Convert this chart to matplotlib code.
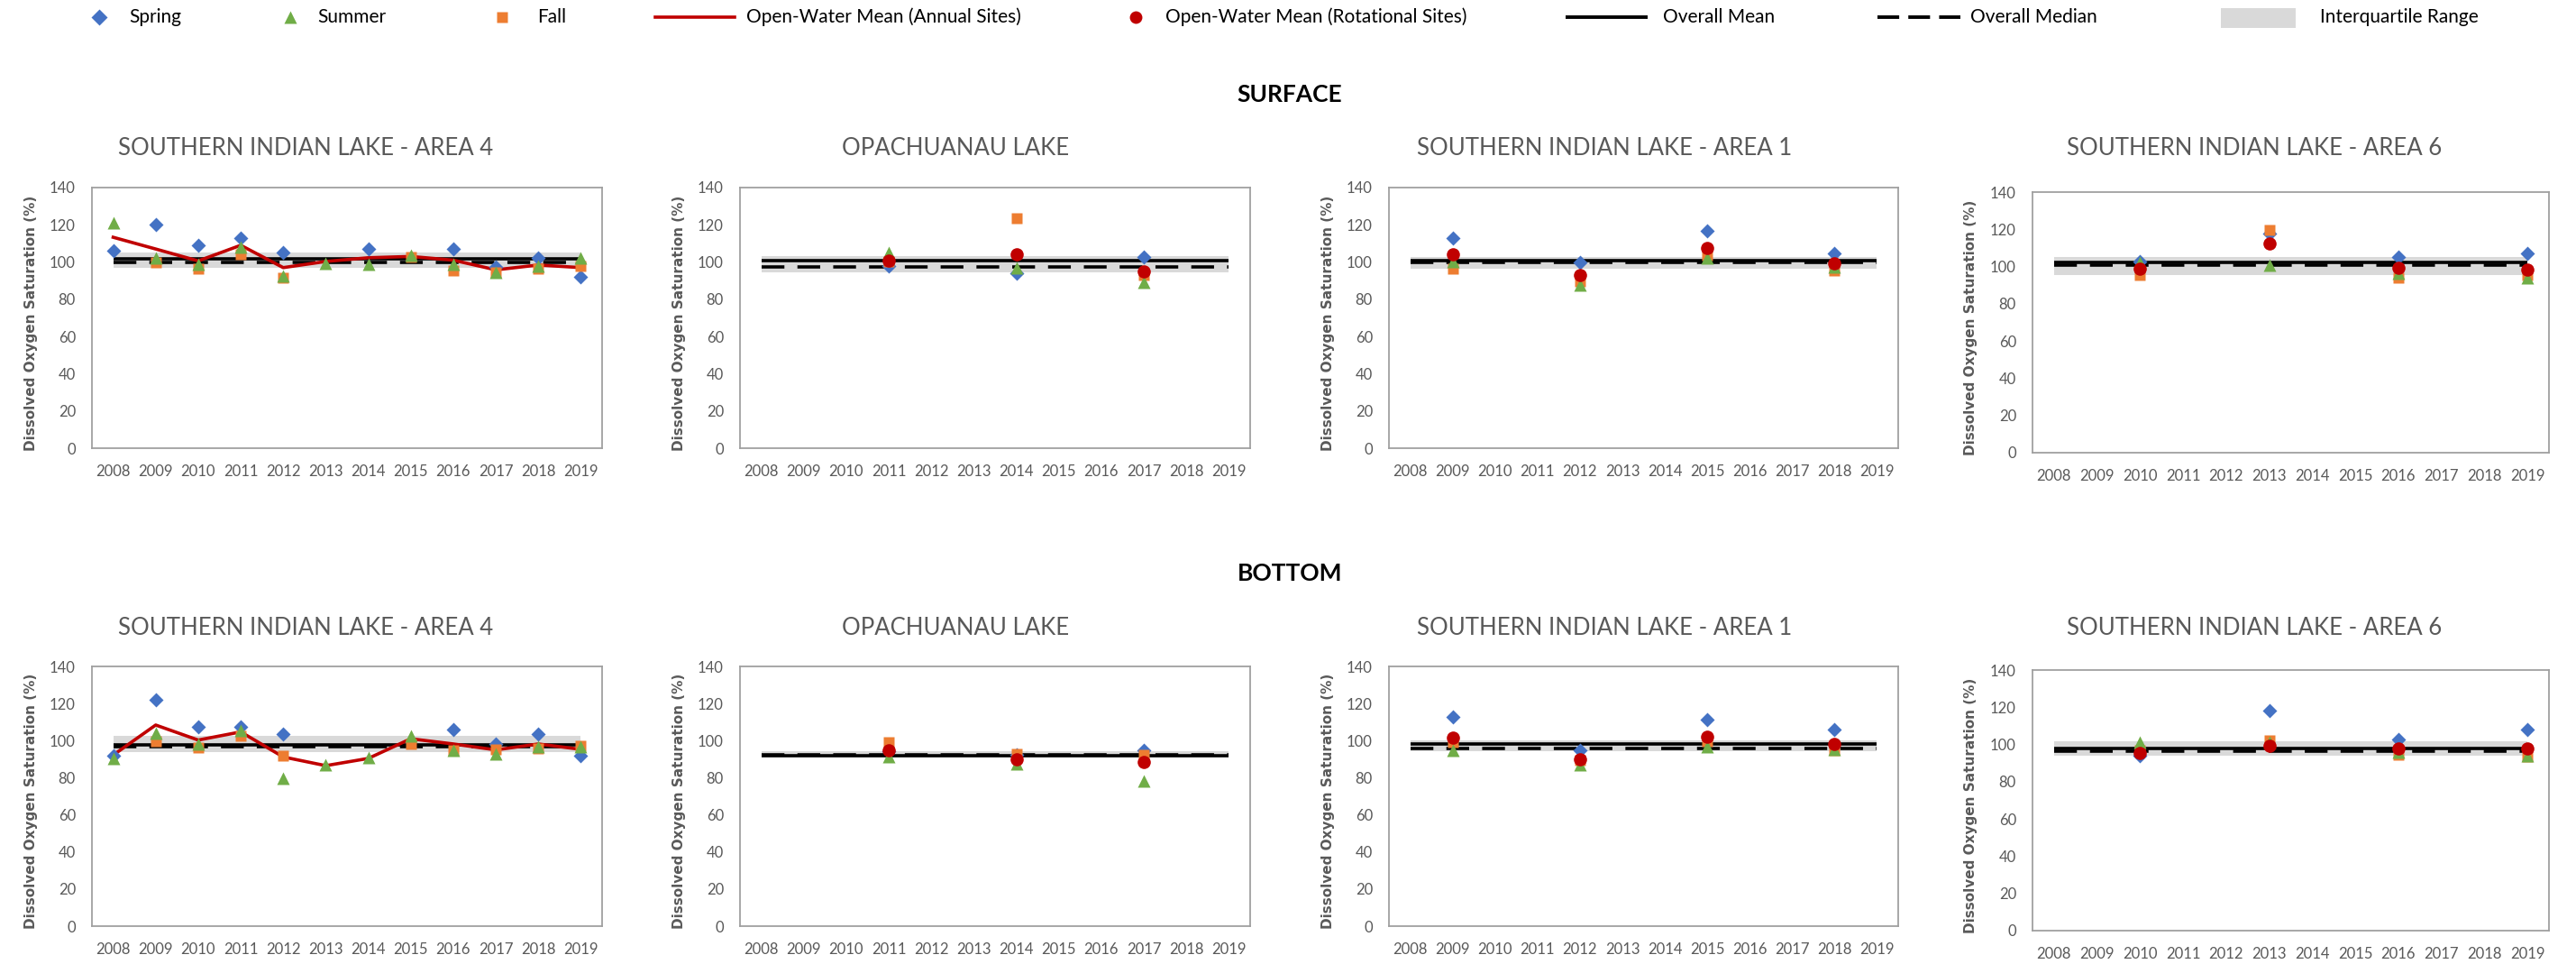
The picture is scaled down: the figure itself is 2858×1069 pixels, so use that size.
"""
Dissolved oxygen saturation (%) by year and season, surface and bottom,
for four lake sites. Excel-style 2x4 panel figure saved as out.png.
"""

import numpy as np
import matplotlib

matplotlib.use("Agg")
import matplotlib.pyplot as plt
from matplotlib.patches import Rectangle

plt.rcParams["font.family"] = ["Lato", "DejaVu Sans"]

W, H, DPI = 2858, 1069, 100
NA = np.nan

YEARS = list(range(2008, 2020))

SITES = [
    "SOUTHERN INDIAN LAKE - AREA 4",
    "OPACHUANAU LAKE",
    "SOUTHERN INDIAN LAKE - AREA 1",
    "SOUTHERN INDIAN LAKE - AREA 6",
]
OPA_YEARS = [2011, 2014, 2017]
A1_YEARS = [2009, 2012, 2015, 2018]
A6_YEARS = [2010, 2013, 2016, 2019]

# ---- surface ----
A4_SURF_SPRING = [106, 120, 109, 113, 105, NA, 107, NA, 107, 97.5, 102, 92]
A4_SURF_SUMMER = [121, 102, 99, 108, 92.5, 99.5, 98.7, 103.5, 98.7, 94.7, 98, 102]
A4_SURF_FALL = [NA, 100, 96.3, 104, 91.7, NA, NA, 102.8, 95.5, 94.7, 96.3, 98]
A4_SURF_MEAN = [113.3, 107, 100.6, 109, 97, 100.3, 102.3, 103, 101, 95.8, 98.4, 97]

OPA_SURF_SPRING = [97.9, 93.9, 102.8]
OPA_SURF_SUMMER = [105, 96.8, 89.3]
OPA_SURF_FALL = [100.3, 123.4, 93]
OPA_SURF_MEAN = [100.6, 104.3, 95.1]

A1_SURF_SPRING = [113, 99.8, 116.8, 104.4]
A1_SURF_SUMMER = [100.3, 87.7, 102.3, 97.4]
A1_SURF_FALL = [96.3, 89.8, 103.6, 95.5]
A1_SURF_MEAN = [104, 92.9, 107.6, 99.2]

A6_SURF_SPRING = [102.8, 117.8, 105.2, 107.1]
A6_SURF_SUMMER = [102, 100.6, 96.6, 93.9]
A6_SURF_FALL = [95.5, 119.7, 94.2, 95.5]
A6_SURF_MEAN = [99, 112.5, 99.2, 98.4]

SURF_OVERALL_MEAN = [101.6, 100.8, 100.6, 102.3]
SURF_OVERALL_MEDIAN = [100, 97.6, 99.8, 100.8]
SURF_Q1 = [96.8, 94.5, 96.3, 95.5]
SURF_Q3 = [105.2, 103, 102.8, 105.2]

# ---- bottom ----
A4_BOT_SPRING = [92, 122.1, 107.5, 107.5, 103.5, NA, NA, NA, 105.8, 98.2, 103.5, 91.7]
A4_BOT_SUMMER = [90.6, 104.2, 98.2, 105.5, 79.5, 87.2, 90.9, 102.6, 95, 92.9, 96.6, 96.9]
A4_BOT_FALL = [NA, 99.8, 96.1, 102.6, 91.7, NA, NA, 98.2, 95, 95.3, 95.8, 97.4]
A4_BOT_MEAN = [92.2, 108.4, 100.3, 104.7, 91.2, 86.5, 90.4, 101, 98.2, 95, 98.2, 95.3]

OPA_BOT_SPRING = [94.5, 92.5, 95]
OPA_BOT_SUMMER = [91.2, 87.3, 78.4]
OPA_BOT_FALL = [99, 92.9, 92.5]
OPA_BOT_MEAN = [95, 90.1, 88.5]

A1_BOT_SPRING = [112.8, 95, 111.2, 105.8]
A1_BOT_SUMMER = [95, 87.2, 96.9, 95.3]
A1_BOT_FALL = [99, 89.3, 99.8, 95]
A1_BOT_MEAN = [101.4, 90.1, 101.9, 98]

A6_BOT_SPRING = [94.2, 118.1, 102.8, 107.9]
A6_BOT_SUMMER = [101.1, 101.1, 95.8, 94.2]
A6_BOT_FALL = [97.1, 102.4, 94.3, 93.4]
A6_BOT_MEAN = [95.5, 99.2, 97.9, 97.9]

BOT_OVERALL_MEAN = [97.7, 91.7, 98, 97.9]
BOT_OVERALL_MEDIAN = [96.6, 92.3, 95.8, 96.6]
BOT_Q1 = [93.7, 90.9, 94.5, 94.2]
BOT_Q3 = [102.6, 94.2, 100.3, 101.6]

SITE_YEARS = [YEARS, OPA_YEARS, A1_YEARS, A6_YEARS]
ANNUAL_SITE = [True, False, False, False]

SURFACE = [
    (A4_SURF_SPRING, A4_SURF_SUMMER, A4_SURF_FALL, A4_SURF_MEAN),
    (OPA_SURF_SPRING, OPA_SURF_SUMMER, OPA_SURF_FALL, OPA_SURF_MEAN),
    (A1_SURF_SPRING, A1_SURF_SUMMER, A1_SURF_FALL, A1_SURF_MEAN),
    (A6_SURF_SPRING, A6_SURF_SUMMER, A6_SURF_FALL, A6_SURF_MEAN),
]
BOTTOM = [
    (A4_BOT_SPRING, A4_BOT_SUMMER, A4_BOT_FALL, A4_BOT_MEAN),
    (OPA_BOT_SPRING, OPA_BOT_SUMMER, OPA_BOT_FALL, OPA_BOT_MEAN),
    (A1_BOT_SPRING, A1_BOT_SUMMER, A1_BOT_FALL, A1_BOT_MEAN),
    (A6_BOT_SPRING, A6_BOT_SUMMER, A6_BOT_FALL, A6_BOT_MEAN),
]

# colours / styles
C_SPRING = "#4472C4"
C_SUMMER = "#70AD47"
C_FALL = "#ED7D31"
C_RED = "#C00000"
C_IQR = "#D9D9D9"
C_TEXT = "#595959"
DASH = (7, 4)

# axes boxes in pixels: (left, top, right, bottom)
SURF_BOXES = [(102, 208, 668, 497), (821, 208, 1387, 497),
              (1541, 208, 2106, 497), (2255, 213, 2828, 502)]
BOT_BOXES = [(102, 739, 668, 1027), (821, 739, 1387, 1027),
             (1541, 739, 2106, 1027), (2255, 743, 2828, 1032)]
TITLE_X = [339, 1060, 1780, 2501]


def add_axes_px(fig, box):
    l, t, r, b = box
    return fig.add_axes([l / W, 1 - b / H, (r - l) / W, (b - t) / H])


def draw_panel(ax, years, series, annual, mean, median, q1, q3):
    spring, summer, fall, ow_mean = series
    x0, x1 = YEARS[0], YEARS[-1]

    ax.fill_between([x0, x1], q1, q3, color=C_IQR, lw=0, zorder=1)
    ax.plot([x0, x1], [mean, mean], color="black", lw=2.6, zorder=2,
            solid_capstyle="butt")
    ax.plot([x0, x1], [median, median], color="black", lw=2.6, dashes=DASH,
            zorder=2, dash_capstyle="butt")

    if annual:
        ax.plot(years, ow_mean, color=C_RED, lw=2.6, zorder=4)

    ax.plot(years, spring, "D", color=C_SPRING, ms=8.5, mec="none", zorder=5)
    ax.plot(years, fall, "s", color=C_FALL, ms=8.5, mec="none", zorder=6)
    ax.plot(years, summer, "^", color=C_SUMMER, ms=10, mec="none", zorder=7)
    if not annual:
        ax.plot(years, ow_mean, "o", color=C_RED, ms=10.5, mec="none", zorder=8)

    ax.set_xlim(x0 - 0.5, x1 + 0.5)
    ax.set_ylim(0, 140)
    ax.set_xticks(YEARS)
    ax.set_xticklabels([str(y) for y in YEARS])
    ax.set_yticks(range(0, 141, 20))
    ax.tick_params(axis="both", length=0, labelsize=12, colors=C_TEXT)
    ax.tick_params(axis="x", pad=13)
    ax.tick_params(axis="y", pad=13)
    for sp in ax.spines.values():
        sp.set_color("#A0A0A0")
        sp.set_linewidth(1.3)
    ax.set_ylabel("Dissolved Oxygen Saturation (%)", family="DejaVu Sans",
                  fontweight="bold", fontsize=11, color=C_TEXT)
    ax.yaxis.set_label_coords(-0.106, 0.48)


def draw_legend(lax):
    y = 19
    fs = 15
    lax.plot([110], [y], "D", color=C_SPRING, ms=9.5, mec="none")
    lax.text(143, y, "Spring", fontsize=fs, va="center")
    lax.plot([322], [y], "^", color=C_SUMMER, ms=10, mec="none")
    lax.text(352, y, "Summer", fontsize=fs, va="center")
    lax.plot([557], [y], "s", color=C_FALL, ms=8, mec="none")
    lax.text(596, y, "Fall", fontsize=fs, va="center")
    lax.plot([727, 815], [y, y], color=C_RED, lw=2.6)
    lax.text(828, y, "Open-Water Mean (Annual Sites)", fontsize=fs, va="center")
    lax.plot([1260], [y], "o", color=C_RED, ms=10, mec="none")
    lax.text(1293, y, "Open-Water Mean (Rotational Sites)", fontsize=fs, va="center")
    lax.plot([1737, 1828], [y, y], color="black", lw=2.8, solid_capstyle="butt")
    lax.text(1845, y, "Overall Mean", fontsize=fs, va="center")
    lax.plot([2083, 2175], [y, y], color="black", lw=2.8, dashes=(6.2, 2.6),
             dash_capstyle="butt")
    lax.text(2186, y, "Overall Median", fontsize=fs, va="center")
    lax.add_patch(Rectangle((2464, 9), 83, 22, color=C_IQR, lw=0))
    lax.text(2574, y, "Interquartile Range", fontsize=fs, va="center")


def main():
    fig = plt.figure(figsize=(W / DPI, H / DPI), dpi=DPI)

    # overlay in pixel units for legend and headings
    lax = fig.add_axes([0, 0, 1, 1], zorder=-1)
    lax.set_xlim(0, W)
    lax.set_ylim(H, 0)
    lax.axis("off")
    draw_legend(lax)

    lax.text(1431, 105, "SURFACE", fontsize=19, fontweight="bold",
             ha="center", va="center")
    lax.text(1431, 636, "BOTTOM", fontsize=19, fontweight="bold",
             ha="center", va="center")

    rows = [
        (SURF_BOXES, SURFACE, SURF_OVERALL_MEAN, SURF_OVERALL_MEDIAN, SURF_Q1, SURF_Q3, 165),
        (BOT_BOXES, BOTTOM, BOT_OVERALL_MEAN, BOT_OVERALL_MEDIAN, BOT_Q1, BOT_Q3, 696),
    ]
    for boxes, data, means, medians, q1s, q3s, title_y in rows:
        for i in range(4):
            ax = add_axes_px(fig, boxes[i])
            draw_panel(ax, SITE_YEARS[i], data[i], ANNUAL_SITE[i],
                       means[i], medians[i], q1s[i], q3s[i])
            lax.text(TITLE_X[i], title_y, SITES[i], fontsize=18.5,
                     color=C_TEXT, ha="center", va="center")

    fig.savefig("out.png", dpi=DPI)
    plt.close(fig)


if __name__ == "__main__":
    main()
